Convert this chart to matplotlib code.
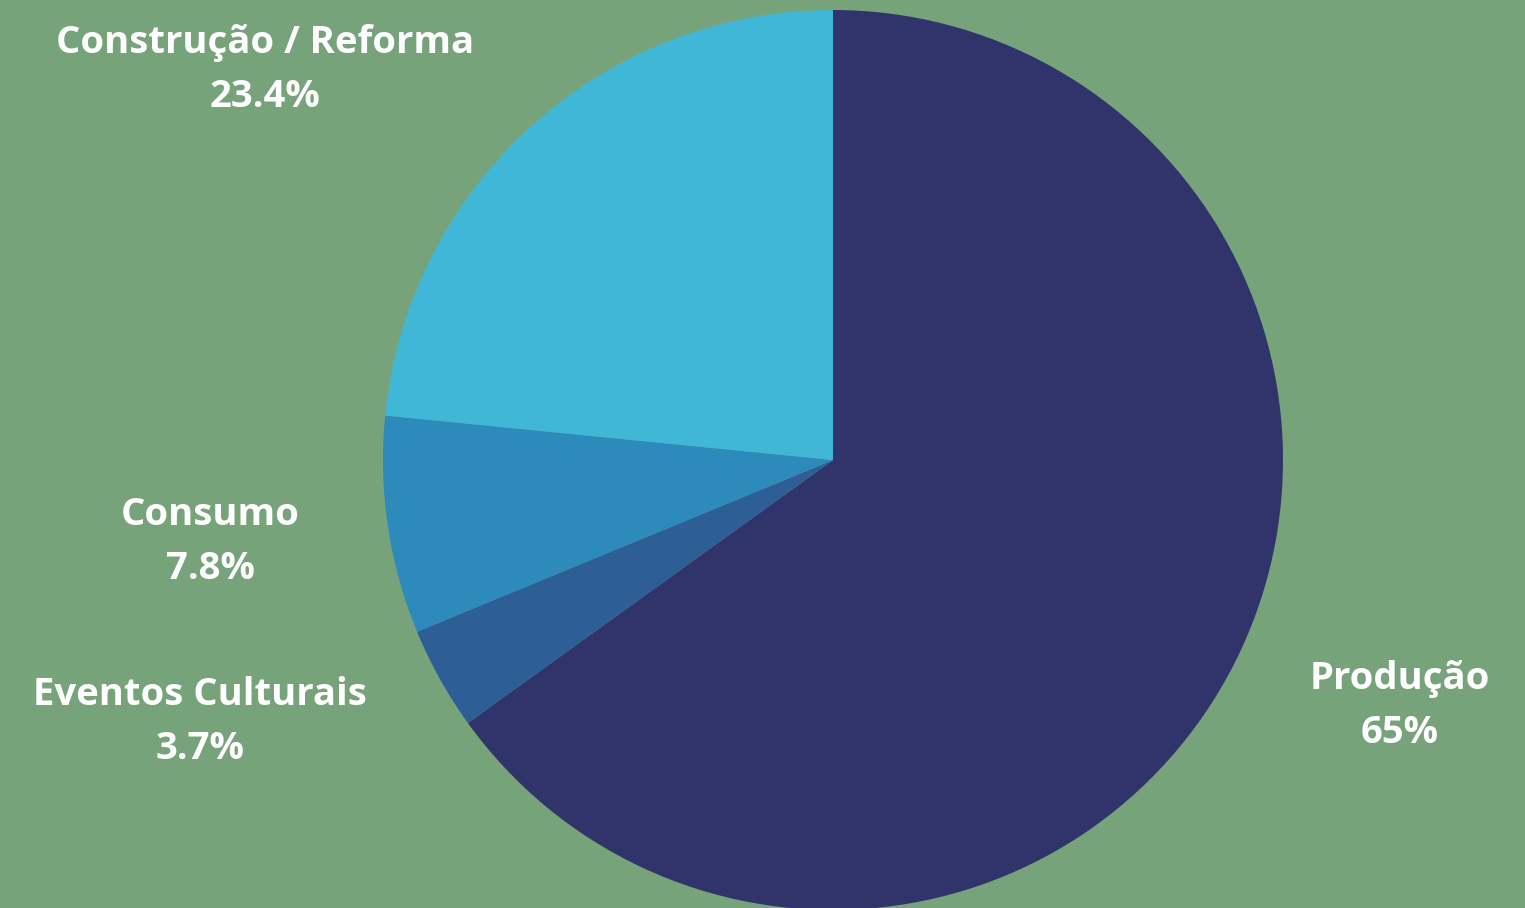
import matplotlib.pyplot as plt

categories = ["Produção", "Eventos Culturais", "Consumo", "Construção / Reforma"]
values = [65.0, 3.7, 7.8, 23.4]
value_labels = ["65%", "3.7%", "7.8%", "23.4%"]

colors = ["#31346B", "#2D5F96", "#2C8BBA", "#41B7D7"]
bg = "#77A37B"
# label centres in data units (pie radius = 1)
label_pos = [(1.26, -0.547), (-1.406, -0.582), (-1.383, -0.182), (-1.262, 0.866)]

fig = plt.figure(figsize=(15.25, 9.08), dpi=100, facecolor=bg)
ax = fig.add_axes([0, 0, 1, 1])
ax.set_facecolor(bg)

ax.pie(values, colors=colors, startangle=90, counterclock=False,
       radius=1, wedgeprops=dict(linewidth=0))

for name, val, (x, y) in zip(categories, value_labels, label_pos):
    ax.text(x, y, name + "\n" + val, ha="center", va="center",
            color="white", fontsize=27.5, fontweight="bold",
            family="Open Sans", linespacing=1.56)

ax.set_xlim(-833 / 450, (1525 - 833) / 450)
ax.set_ylim(-(908 - 460) / 450, 460 / 450)
ax.set_aspect("equal")
ax.axis("off")

plt.savefig("out.png", facecolor=bg)
